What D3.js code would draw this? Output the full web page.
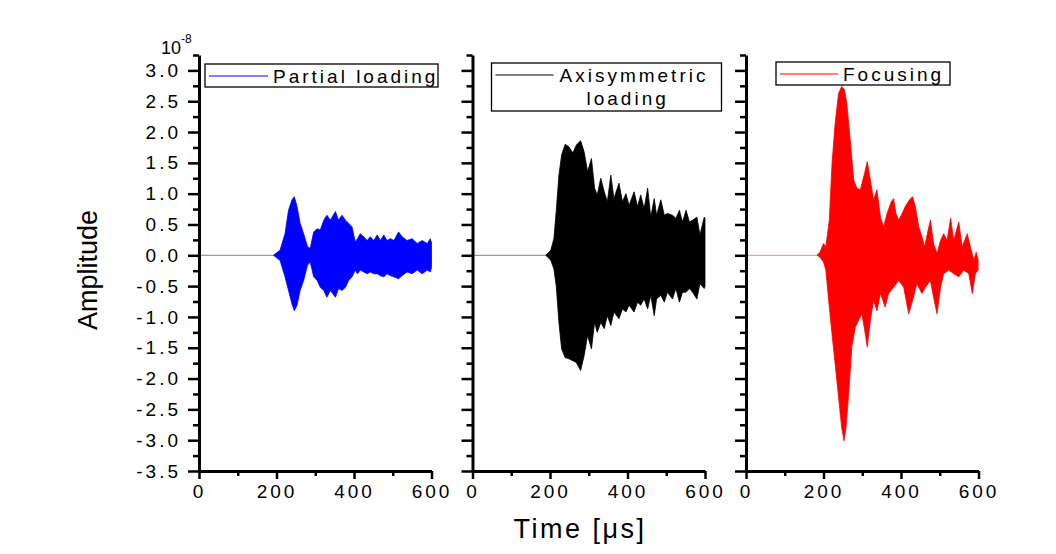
<!DOCTYPE html>
<html>
<head>
<meta charset="utf-8">
<script src="https://cdn.jsdelivr.net/npm/d3@7"></script>
<style>
  body { margin: 0; background: #fff; }
  text { font-family: "Liberation Sans", Arial, sans-serif; fill: #000; }
</style>
</head>
<body>
<div id="chart"></div>
<script>
// time [us], amplitude in units of 1e-8 (envelope of the dense waveform)
const partialT = [192, 209, 222, 231, 240, 246, 253, 261, 270, 280, 287, 296, 305, 313, 322, 330, 339, 352, 360, 369,
  378, 386, 395, 403, 409, 416, 425, 434, 442, 451, 460, 468, 477, 485, 494, 503, 515, 524, 537, 550, 563, 576, 589, 597, 600];
const partialUpper = [0, 0.08, 0.35, 0.73, 0.90, 0.95, 0.79, 0.52, 0.35, 0.14, 0.11, 0.38, 0.43, 0.41, 0.57, 0.65, 0.57, 0.71, 0.57, 0.65,
  0.57, 0.52, 0.46, 0.22, 0.27, 0.35, 0.30, 0.24, 0.30, 0.24, 0.33, 0.24, 0.33, 0.24, 0.27, 0.24, 0.38, 0.30, 0.24, 0.27, 0.19, 0.24, 0.19, 0.27, 0.20];
const partialLower = [0, -0.08, -0.35, -0.57, -0.79, -0.90, -0.81, -0.57, -0.41, -0.16, -0.11, -0.35, -0.41, -0.52, -0.57, -0.68, -0.57, -0.68, -0.54, -0.57,
  -0.52, -0.41, -0.35, -0.24, -0.30, -0.24, -0.27, -0.30, -0.27, -0.30, -0.30, -0.33, -0.35, -0.30, -0.33, -0.35, -0.38, -0.33, -0.27, -0.30, -0.24, -0.30, -0.24, -0.27, -0.20];

const axisT = [189, 202, 210, 216, 223, 230, 239, 249, 259, 268, 279, 288, 297, 307, 315, 322, 331, 340, 348, 357,
  365, 378, 387, 396, 404, 417, 426, 434, 443, 452, 460, 469, 475, 486, 495, 503, 516, 525, 534, 542, 551, 560, 568, 579, 587, 598, 600];
const axisUpper = [0, 0.08, 0.27, 0.71, 1.30, 1.63, 1.80, 1.76, 1.66, 1.79, 1.86, 1.68, 1.36, 1.57, 1.09, 0.98, 1.25, 1.03, 0.87, 1.30,
  0.92, 1.17, 0.87, 1.00, 0.81, 1.03, 0.79, 0.98, 0.76, 1.09, 0.62, 0.92, 0.65, 0.90, 0.65, 0.68, 0.65, 0.60, 0.73, 0.54, 0.73, 0.54, 0.57, 0.62, 0.33, 0.62, 0.60];
const axisLower = [0, -0.08, -0.22, -0.49, -1.09, -1.52, -1.66, -1.68, -1.71, -1.74, -1.87, -1.63, -1.30, -1.52, -1.09, -1.25, -1.09, -1.19, -0.98, -1.14,
  -0.92, -1.03, -0.87, -0.92, -0.81, -0.92, -0.76, -0.81, -0.71, -0.87, -0.65, -0.98, -0.71, -0.65, -0.76, -0.60, -0.71, -0.54, -0.76, -0.60, -0.60, -0.54, -0.60, -0.71, -0.46, -0.54, -0.50];

const focusUpperT = [183, 191, 200, 206, 215, 222, 230, 239, 247, 254, 260, 269, 278, 286, 295, 306, 313, 321, 329, 338,
  347, 355, 364, 375, 381, 387, 394, 403, 411, 422, 430, 437, 446, 454, 461, 470, 476, 484, 493, 502, 510, 519, 528, 536, 549, 558, 571, 579, 588, 594, 599];
const focusUpper = [0, 0.05, 0.19, 0.14, 0.57, 1.49, 2.14, 2.63, 2.74, 2.69, 2.47, 1.87, 1.22, 1.09, 1.06, 1.33, 1.52, 1.22, 0.90, 1.06,
  0.62, 0.46, 0.68, 0.87, 0.92, 0.68, 0.57, 0.68, 0.79, 0.90, 0.95, 0.79, 0.46, 0.30, 0.14, 0.41, 0.57, 0.19, 0.03, 0.24, 0.35, 0.24, 0.60, 0.24, 0.54, 0.14, 0.35, 0.14, -0.08, 0.05, -0.08];
const focusLowerT = [191, 200, 206, 215, 222, 230, 239, 247, 253, 258, 265, 273, 282, 290, 299, 308, 313, 321, 329, 338,
  347, 359, 368, 381, 394, 407, 420, 430, 441, 454, 463, 476, 484, 493, 502, 510, 523, 536, 549, 562, 575, 584, 592, 599];
const focusLower = [-0.03, -0.11, -0.24, -0.84, -1.28, -1.76, -2.31, -2.80, -3.01, -2.80, -2.25, -1.49, -1.17, -1.06, -0.95, -1.28, -1.49, -1.06, -0.73, -0.90,
  -0.62, -0.84, -0.62, -0.52, -0.41, -0.52, -0.95, -0.73, -0.46, -0.62, -0.52, -0.41, -0.68, -0.95, -0.52, -0.30, -0.24, -0.30, -0.35, -0.24, -0.30, -0.62, -0.30, -0.24];

const xTicks = [0, 200, 400, 600];
const xMinorTicks = [100, 300, 500];
const yTicks = [-3.5, -3.0, -2.5, -2.0, -1.5, -1.0, -0.5, 0.0, 0.5, 1.0, 1.5, 2.0, 2.5, 3.0];
const yMinorTicks = [-3.25, -2.75, -2.25, -1.75, -1.25, -0.75, -0.25, 0.25, 0.75, 1.25, 1.75, 2.25, 2.75, 3.25];

const series = [
  { label: ["Partial loading"], color: "#0000ff", base: "#8e8eff",
    tUp: partialT, up: partialUpper, tLo: partialT, lo: partialLower,
    legend: { x: 6, y: 9, w: 233, h: 23, line: 59 } },
  { label: ["Axisymmetric", "loading"], color: "#000000", base: "#9a9a9a",
    tUp: axisT, up: axisUpper, tLo: axisT, lo: axisLower,
    legend: { x: 19, y: 8, w: 230, h: 48, line: 58 } },
  { label: ["Focusing"], color: "#ff0000", base: "#f5a0a0",
    tUp: focusUpperT, up: focusUpper, tLo: focusLowerT, lo: focusLower,
    legend: { x: 30, y: 7, w: 174, h: 23, line: 58 } }
];

const width = 1056, height = 554;
const margin = { top: 55, left: 199 };
const panelW = 232.5, panelGap = 41, panelH = 416;

const svg = d3.select("#chart").append("svg")
  .attr("width", width)
  .attr("height", height);

const x = d3.scaleLinear().domain([0, 600]).range([0, panelW]);
const y = d3.scaleLinear().domain([-3.5, 3.25]).range([panelH, 0]);

const fmt = d => d.toFixed(1);
const line = d3.line();

series.forEach((s, i) => {
  const g = svg.append("g")
    .attr("transform", `translate(${margin.left + i * (panelW + panelGap)},${margin.top})`);

  // flat part before the wave arrives
  g.append("line")
    .attr("x1", x(0)).attr("x2", x(s.tUp[0]))
    .attr("y1", y(0)).attr("y2", y(0))
    .attr("stroke", s.base)
    .attr("stroke-width", 1.2);

  // waveform drawn as its upper/lower envelope
  const pts = s.tUp.map((t, k) => [x(t), y(s.up[k])])
    .concat(s.tLo.map((t, k) => [x(t), y(s.lo[k])]).reverse());
  g.append("path")
    .attr("d", line(pts) + "Z")
    .attr("fill", s.color)
    .attr("stroke", s.color)
    .attr("stroke-width", 0.8)
    .attr("stroke-linejoin", "round");

  // y axis
  const yAxis = g.append("g")
    .call(d3.axisLeft(y).tickValues(yTicks).tickSize(11).tickSizeOuter(0).tickPadding(7)
      .tickFormat(i === 0 ? fmt : ""));
  yAxis.select(".domain").attr("stroke-width", 3);
  yAxis.selectAll(".tick line").attr("stroke-width", 2.5);
  yAxis.selectAll("text")
    .attr("font-size", 19)
    .attr("letter-spacing", 3)
    .attr("font-family", "Liberation Sans, Arial, sans-serif");

  const yMinor = g.append("g")
    .call(d3.axisLeft(y).tickValues(yMinorTicks).tickSize(6).tickFormat(""));
  yMinor.select(".domain").remove();
  yMinor.selectAll(".tick line").attr("stroke-width", 2.5);

  // x axis
  const xAxis = g.append("g")
    .attr("transform", `translate(0,${panelH})`)
    .call(d3.axisBottom(x).tickValues(xTicks).tickSize(8).tickSizeOuter(0).tickPadding(6));
  xAxis.select(".domain").attr("stroke-width", 3);
  xAxis.selectAll(".tick line").attr("stroke-width", 2.5);
  xAxis.selectAll("text")
    .attr("font-size", 19)
    .attr("letter-spacing", 3)
    .attr("font-family", "Liberation Sans, Arial, sans-serif");

  const xMinor = g.append("g")
    .attr("transform", `translate(0,${panelH})`)
    .call(d3.axisBottom(x).tickValues(xMinorTicks).tickSize(5).tickFormat(""));
  xMinor.select(".domain").remove();
  xMinor.selectAll(".tick line").attr("stroke-width", 2.5);

  // legend box
  const L = s.legend;
  const lg = g.append("g").attr("transform", `translate(${L.x},${L.y})`);
  lg.append("rect")
    .attr("width", L.w).attr("height", L.h)
    .attr("fill", "#fff")
    .attr("stroke", "#000")
    .attr("stroke-width", 1.3);
  lg.append("line")
    .attr("x1", 4).attr("x2", 4 + L.line)
    .attr("y1", 12).attr("y2", 12)
    .attr("stroke", s.color)
    .attr("stroke-width", 1.2);
  if (s.label.length === 1) {
    lg.append("text")
      .attr("x", L.line + 9).attr("y", 19)
      .attr("font-size", 19)
      .attr("letter-spacing", 3)
      .text(s.label[0]);
  } else {
    lg.append("text")
      .attr("x", L.line + 10).attr("y", 19)
      .attr("font-size", 19)
      .attr("letter-spacing", 3)
      .text(s.label[0]);
    lg.append("text")
      .attr("x", L.line + 37).attr("y", 42)
      .attr("font-size", 19)
      .attr("letter-spacing", 3)
      .text(s.label[1]);
  }
});

// scale factor at top of the first axis
const exp = svg.append("text")
  .attr("x", 161).attr("y", 54)
  .attr("font-size", 18);
exp.append("tspan").text("10");
exp.append("tspan").attr("dy", -11).attr("font-size", 12).text("-8");

// axis titles
svg.append("text")
  .attr("transform", "translate(97,270) rotate(-90)")
  .attr("text-anchor", "middle")
  .attr("font-size", 27)
  .text("Amplitude");

svg.append("text")
  .attr("x", 580).attr("y", 538)
  .attr("text-anchor", "middle")
  .attr("font-size", 27)
  .attr("letter-spacing", 2.5)
  .text("Time [μs]");
</script>
</body>
</html>
